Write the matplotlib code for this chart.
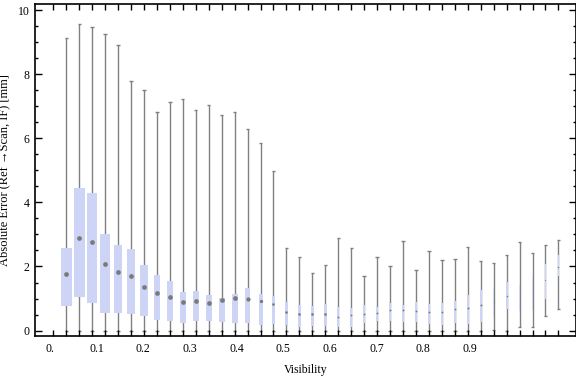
import matplotlib
matplotlib.use("Agg")
from matplotlib import pyplot as plt
import numpy as np

# box-whisker stats, one entry per visibility bin
whisk_lo = [0, 0, 0, 0, 0, 0, 0, 0, 0, 0, 0, 0, 0, 0, 0, 0, 0, 0, 0, 0,
            0, 0, 0, 0, 0, 0, 0, 0, 0, 0, 0, 0, 0, 0.03, 0, 0.12, 0.12, 0.45, 0.66]
q1 = [0.77, 1.06, 0.86, 0.56, 0.56, 0.52, 0.45, 0.34, 0.30, 0.23, 0.30, 0.30, 0.27,
      0.23, 0.23, 0.17, 0.20, 0.17, 0.12, 0.14, 0.15, 0.11, 0.12, 0.23, 0.30, 0.30,
      0.27, 0.27, 0.20, 0.17, 0.23, 0.20, 0.27, 0.43, 0.68, 0.61, 0.64, 0.99, 1.70]
median = [1.78, 2.88, 2.76, 2.08, 1.84, 1.71, 1.36, 1.18, 1.06, 0.90, 0.91, 0.87, 0.96,
          1.03, 0.98, 0.91, 0.83, 0.59, 0.51, 0.51, 0.53, 0.43, 0.47, 0.51, 0.55, 0.65,
          0.63, 0.61, 0.57, 0.57, 0.66, 0.71, 0.80, 0.89, 1.07, 1.04, 1.24, 1.58, 1.97]
q3 = [2.58, 4.45, 4.30, 3.02, 2.67, 2.55, 2.05, 1.73, 1.55, 1.20, 1.23, 1.11, 1.03,
      1.14, 1.34, 1.14, 1.08, 0.88, 0.79, 0.76, 0.83, 0.73, 0.71, 0.80, 0.74, 0.86,
      0.80, 0.89, 0.82, 0.86, 0.92, 1.11, 1.27, 1.31, 1.52, 1.42, 1.67, 2.08, 2.37]
whisk_hi = [9.13, 9.57, 9.47, 9.27, 8.91, 7.80, 7.52, 6.82, 7.13, 7.23, 6.88, 7.04, 6.72,
            6.82, 6.29, 5.85, 4.99, 2.57, 2.29, 1.79, 2.04, 2.88, 2.57, 1.69, 2.29, 2.01,
            2.79, 1.88, 2.47, 2.19, 2.22, 2.60, 2.17, 2.11, 2.35, 2.77, 2.41, 2.66, 2.82]
# relative box width (sample count), as drawn
box_w = [0.82, 0.82, 0.82, 0.72, 0.62, 0.62, 0.62, 0.52, 0.5, 0.48, 0.46, 0.46, 0.46,
         0.46, 0.39, 0.31, 0.24, 0.24, 0.24, 0.24, 0.24, 0.17, 0.17, 0.17, 0.17, 0.17,
         0.17, 0.17, 0.17, 0.17, 0.17, 0.18, 0.18, 0.12, 0.14, 0.1, 0.1, 0.1, 0.14]
vis_labels = [0.0, 0.1, 0.2, 0.3, 0.4, 0.5, 0.6, 0.7, 0.8, 0.9]

plt.rcParams["font.family"] = ["Liberation Serif", "DejaVu Serif"]
plt.rcParams["font.size"] = 8.5

fig = plt.figure(figsize=(5.76, 3.77), dpi=100)
ax = fig.add_axes([0.0608, 0.108, 0.9384, 0.8806])

pos = np.arange(1, len(q1) + 1)
gray = "#808080"
boxc = "#cdd4f5"

ax.vlines(pos, whisk_lo, whisk_hi, color=gray, lw=1.0, zorder=1)
ax.hlines(whisk_hi, pos - 0.13, pos + 0.13, color=gray, lw=1.0, zorder=1)
ax.hlines(whisk_lo, pos - 0.13, pos + 0.13, color=gray, lw=1.0, zorder=1)
ax.bar(pos, np.array(q3) - np.array(q1), bottom=q1, width=box_w, color=boxc,
       linewidth=0, zorder=2)
for p, m, w in zip(pos, median, box_w):
    ms = min(3.4, w * 12.95 * 0.6)
    ax.plot(p, m, "o", color="#7a7a7a", ms=ms, mew=0, zorder=3)

ax.set_xlim(-1.41, 40.32)
ax.set_ylim(-0.18, 10.19)

# bin ticks along x, labels at visibility positions
ax.set_xticks(np.arange(0, 40), minor=True)
ax.set_xticks([36 * v - 0.25 for v in vis_labels])
ax.set_xticklabels(["0."] + ["%.1f" % v for v in vis_labels[1:]])
ax.tick_params(axis="x", which="major", length=0, pad=4.5)
ax.tick_params(axis="x", which="minor", direction="in", length=4, width=1,
               top=True, bottom=True)
ax.set_yticks(np.arange(0, 11, 2))
ax.set_yticks(np.arange(0, 10.01, 0.5), minor=True)
ax.tick_params(axis="y", which="major", direction="in", length=5, width=1,
               left=True, right=True, pad=4)
ax.tick_params(axis="y", which="minor", direction="in", length=2.5, width=1,
               left=True, right=True)
for s in ax.spines.values():
    s.set_linewidth(1.2)

ax.set_xlabel("Visibility", labelpad=7)
ax.set_ylabel("Absolute Error (Ref \u2192Scan, IF) [mm]", labelpad=5, fontsize=9)

plt.savefig("out.png", dpi=100)
